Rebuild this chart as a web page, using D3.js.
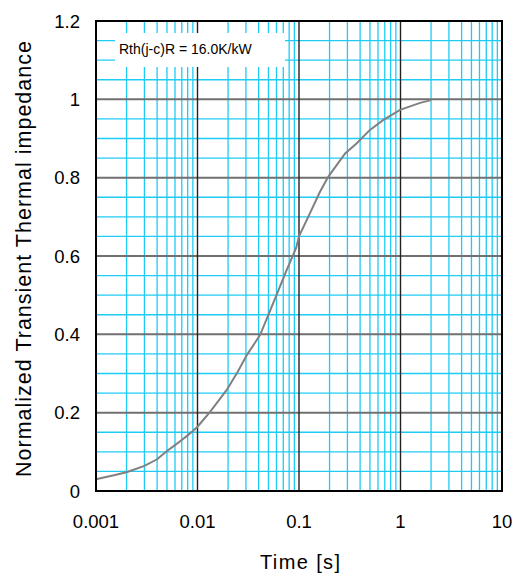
<!DOCTYPE html>
<html lang="en">
<head>
    <meta charset="UTF-8">
    <title>Transient Thermal impedance</title>
    <style>
        body { margin: 0; background: #fff; }
        svg { display: block; }
        text { font-family: Arial, 'Liberation Sans', sans-serif; fill: #000; }
    </style>
</head>
<body>
    <svg width="515" height="576"></svg>
    <script src="https://d3js.org/d3.v7.min.js"></script>
    <script>
        // Curve
        var timeS = [0.001, 0.0015, 0.002, 0.003, 0.004, 0.005, 0.006, 0.007, 0.008, 0.009,
                     0.01, 0.0133, 0.0194, 0.025, 0.0306, 0.0413, 0.0498, 0.06, 0.0755, 0.0935,
                     0.1, 0.128, 0.161, 0.194, 0.235, 0.285, 0.371, 0.5, 0.674, 0.99, 1.56, 2.0];
        var zth   = [0.030, 0.040, 0.048, 0.064, 0.081, 0.102, 0.117, 0.130, 0.142, 0.153,
                     0.164, 0.202, 0.258, 0.305, 0.347, 0.398, 0.449, 0.500, 0.564, 0.620,
                     0.650, 0.709, 0.764, 0.802, 0.832, 0.862, 0.888, 0.922, 0.947, 0.973, 0.991, 0.998];

        var xTicks = [0.001, 0.01, 0.1, 1, 10];
        var xTickLabels = ["0.001", "0.01", "0.1", "1", "10"];
        var yTicks = [0, 0.2, 0.4, 0.6, 0.8, 1, 1.2];
        var yTickLabels = ["0", "0.2", "0.4", "0.6", "0.8", "1", "1.2"];
        var noteText = "Rth(j-c)R = 16.0K/kW";

        var svg = d3.select("svg"),
            margin = {top: 21, right: 13, bottom: 85, left: 96},
            width = +svg.attr("width") - margin.left - margin.right,
            height = +svg.attr("height") - margin.top - margin.bottom;

        var x = d3.scaleLog().domain([0.001, 10]).range([0, width]);
        var y = d3.scaleLinear().domain([0, 1.2]).range([height, 0]);

        var g = svg.append("g")
            .attr("transform", "translate(" + margin.left + "," + margin.top + ")");

        // minor grid (cyan)
        var minorX = [];
        [0.001, 0.01, 0.1, 1].forEach(function(d) {
            for (var k = 2; k <= 9; k++) minorX.push(d * k);
        });
        var minorY = d3.range(1, 24).map(function(i) { return i * 0.05; })
            .filter(function(v, i) { return (i + 1) % 4 !== 0; });

        g.selectAll(".minor-x")
            .data(minorX)
            .enter().append("line")
            .attr("x1", function(d) { return x(d); })
            .attr("x2", function(d) { return x(d); })
            .attr("y1", 0).attr("y2", height)
            .attr("stroke", "#1ecbf5").attr("stroke-width", 1.3);

        g.selectAll(".minor-y")
            .data(minorY)
            .enter().append("line")
            .attr("x1", 0).attr("x2", width)
            .attr("y1", function(d) { return y(d); })
            .attr("y2", function(d) { return y(d); })
            .attr("stroke", "#1ecbf5").attr("stroke-width", 1.3);

        // major grid
        g.selectAll(".major-y")
            .data(yTicks.slice(1, -1))
            .enter().append("line")
            .attr("x1", 0).attr("x2", width)
            .attr("y1", function(d) { return y(d); })
            .attr("y2", function(d) { return y(d); })
            .attr("stroke", "#707070").attr("stroke-width", 2);

        g.selectAll(".major-x")
            .data(xTicks.slice(1, -1))
            .enter().append("line")
            .attr("x1", function(d) { return x(d); })
            .attr("x2", function(d) { return x(d); })
            .attr("y1", 0).attr("y2", height)
            .attr("stroke", "#222").attr("stroke-width", 1.4);

        // note box
        g.append("rect")
            .attr("x", 19).attr("y", 12)
            .attr("width", 170).attr("height", 34)
            .attr("fill", "#fff");
        g.append("text")
            .attr("x", 23).attr("y", 33)
            .attr("font-size", "14px")
            .text(noteText);

        // curve
        var line = d3.line()
            .x(function(d) { return x(d[0]); })
            .y(function(d) { return y(d[1]); });

        g.append("path")
            .datum(d3.zip(timeS, zth))
            .attr("fill", "none")
            .attr("stroke", "#808080")
            .attr("stroke-width", 2)
            .attr("d", line);

        // frame
        g.append("rect")
            .attr("x", 0).attr("y", 0)
            .attr("width", width).attr("height", height)
            .attr("fill", "none")
            .attr("stroke", "#000").attr("stroke-width", 2);

        // tick labels
        g.selectAll(".xlab")
            .data(xTicks)
            .enter().append("text")
            .attr("x", function(d) { return x(d); })
            .attr("y", height + 37)
            .attr("text-anchor", "middle")
            .attr("font-size", "18.5px")
            .text(function(d, i) { return xTickLabels[i]; });

        g.selectAll(".ylab")
            .data(yTicks)
            .enter().append("text")
            .attr("x", -16)
            .attr("y", function(d) { return y(d) + 6.5; })
            .attr("text-anchor", "end")
            .attr("font-size", "18.5px")
            .text(function(d, i) { return yTickLabels[i]; });

        // axis titles
        svg.append("text")
            .attr("x", 300).attr("y", 569)
            .attr("text-anchor", "middle")
            .attr("font-size", "20px")
            .attr("textLength", 80)
            .attr("lengthAdjust", "spacing")
            .text("Time [s]");

        svg.append("text")
            .attr("transform", "translate(31,259) rotate(-90)")
            .attr("text-anchor", "middle")
            .attr("font-size", "21.5px")
            .attr("textLength", 436)
            .attr("lengthAdjust", "spacing")
            .text("Normalized Transient Thermal impedance");
    </script>
</body>
</html>
